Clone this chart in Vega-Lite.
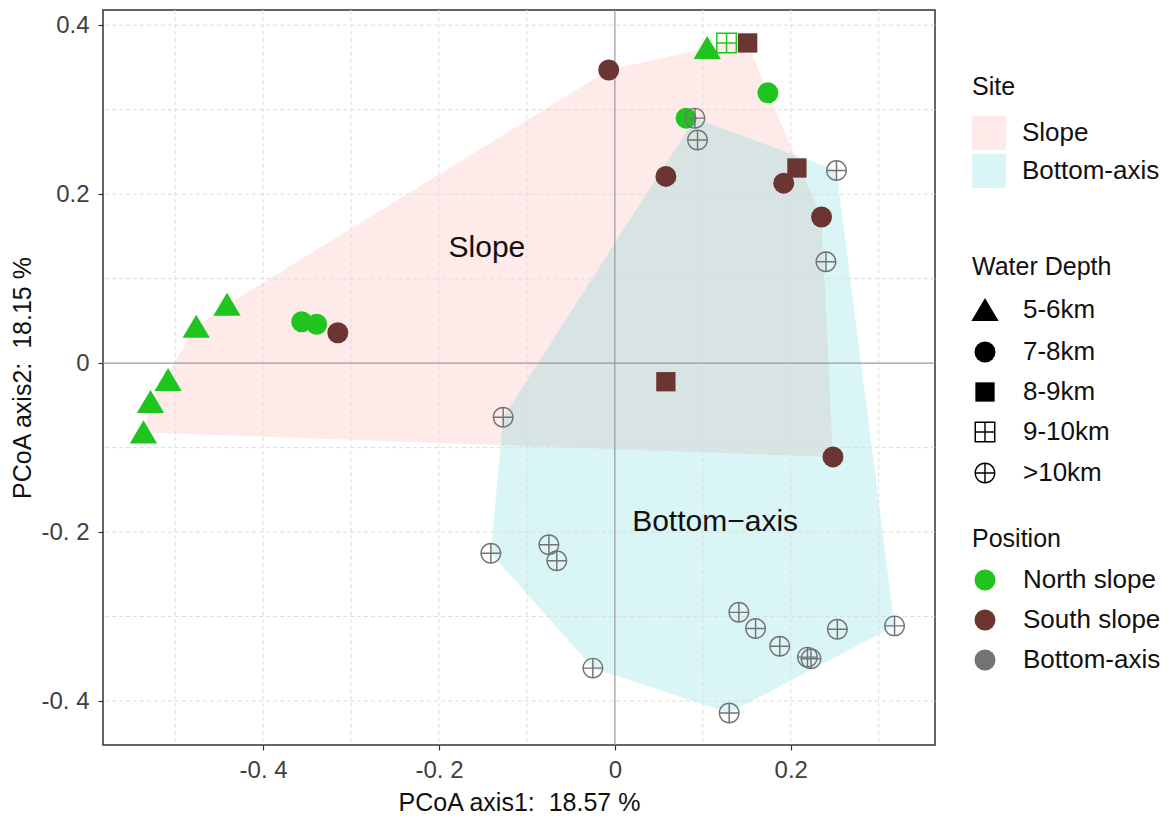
{
  "$schema": "https://vega.github.io/schema/vega-lite/v6.json",
  "width": 832,
  "height": 735,
  "autosize": {"type": "none"},
  "padding": {"left": 103, "top": 10, "right": 241, "bottom": 75},
  "background": "white",
  "config": {
    "font": "Liberation Sans",
    "view": {"stroke": "#333333", "strokeWidth": 1.5},
    "axis": {
      "domain": false,
      "grid": false,
      "tickColor": "#333333",
      "tickSize": 5,
      "tickWidth": 1.2,
      "labelColor": "#404040",
      "labelFontSize": 24,
      "titleFontSize": 25,
      "titleFontWeight": "normal",
      "titleColor": "#111111"
    },
    "legend": {
      "titleFontSize": 25,
      "titleFontWeight": "normal",
      "titleColor": "#111111",
      "labelFontSize": 26,
      "labelColor": "#111111",
      "padding": 0
    }
  },
  "datasets": {
    "pts": [
      {"x": -0.536, "y": -0.082, "depth": "5-6km", "pos": "North slope"},
      {"x": -0.528, "y": -0.046, "depth": "5-6km", "pos": "North slope"},
      {"x": -0.508, "y": -0.020, "depth": "5-6km", "pos": "North slope"},
      {"x": -0.476, "y": 0.043, "depth": "5-6km", "pos": "North slope"},
      {"x": -0.441, "y": 0.069, "depth": "5-6km", "pos": "North slope"},
      {"x": 0.105, "y": 0.373, "depth": "5-6km", "pos": "North slope"},
      {"x": -0.356, "y": 0.049, "depth": "7-8km", "pos": "North slope"},
      {"x": -0.339, "y": 0.046, "depth": "7-8km", "pos": "North slope"},
      {"x": 0.081, "y": 0.290, "depth": "7-8km", "pos": "North slope"},
      {"x": 0.174, "y": 0.320, "depth": "7-8km", "pos": "North slope"},
      {"x": 0.127, "y": 0.379, "depth": "9-10km", "pos": "North slope"},
      {"x": -0.315, "y": 0.036, "depth": "7-8km", "pos": "South slope"},
      {"x": -0.007, "y": 0.347, "depth": "7-8km", "pos": "South slope"},
      {"x": 0.058, "y": 0.221, "depth": "7-8km", "pos": "South slope"},
      {"x": 0.192, "y": 0.213, "depth": "7-8km", "pos": "South slope"},
      {"x": 0.235, "y": 0.173, "depth": "7-8km", "pos": "South slope"},
      {"x": 0.248, "y": -0.111, "depth": "7-8km", "pos": "South slope"},
      {"x": 0.151, "y": 0.379, "depth": "8-9km", "pos": "South slope"},
      {"x": 0.207, "y": 0.231, "depth": "8-9km", "pos": "South slope"},
      {"x": 0.058, "y": -0.022, "depth": "8-9km", "pos": "South slope"},
      {"x": 0.091, "y": 0.290, "depth": ">10km", "pos": "Bottom-axis"},
      {"x": 0.094, "y": 0.264, "depth": ">10km", "pos": "Bottom-axis"},
      {"x": 0.252, "y": 0.228, "depth": ">10km", "pos": "Bottom-axis"},
      {"x": 0.240, "y": 0.120, "depth": ">10km", "pos": "Bottom-axis"},
      {"x": -0.127, "y": -0.064, "depth": ">10km", "pos": "Bottom-axis"},
      {"x": -0.141, "y": -0.225, "depth": ">10km", "pos": "Bottom-axis"},
      {"x": -0.075, "y": -0.215, "depth": ">10km", "pos": "Bottom-axis"},
      {"x": -0.066, "y": -0.234, "depth": ">10km", "pos": "Bottom-axis"},
      {"x": -0.025, "y": -0.361, "depth": ">10km", "pos": "Bottom-axis"},
      {"x": 0.141, "y": -0.295, "depth": ">10km", "pos": "Bottom-axis"},
      {"x": 0.160, "y": -0.314, "depth": ">10km", "pos": "Bottom-axis"},
      {"x": 0.1875, "y": -0.335, "depth": ">10km", "pos": "Bottom-axis"},
      {"x": 0.219, "y": -0.348, "depth": ">10km", "pos": "Bottom-axis"},
      {"x": 0.223, "y": -0.350, "depth": ">10km", "pos": "Bottom-axis"},
      {"x": 0.253, "y": -0.315, "depth": ">10km", "pos": "Bottom-axis"},
      {"x": 0.318, "y": -0.311, "depth": ">10km", "pos": "Bottom-axis"},
      {"x": 0.130, "y": -0.414, "depth": ">10km", "pos": "Bottom-axis"}
    ],
    "hull": [
      {"site": "Slope", "ord": 1, "x": -0.536, "y": -0.082},
      {"site": "Slope", "ord": 2, "x": -0.528, "y": -0.046},
      {"site": "Slope", "ord": 3, "x": -0.476, "y": 0.043},
      {"site": "Slope", "ord": 4, "x": -0.441, "y": 0.069},
      {"site": "Slope", "ord": 5, "x": -0.007, "y": 0.347},
      {"site": "Slope", "ord": 6, "x": 0.105, "y": 0.373},
      {"site": "Slope", "ord": 7, "x": 0.127, "y": 0.379},
      {"site": "Slope", "ord": 8, "x": 0.151, "y": 0.379},
      {"site": "Slope", "ord": 9, "x": 0.174, "y": 0.320},
      {"site": "Slope", "ord": 10, "x": 0.235, "y": 0.173},
      {"site": "Slope", "ord": 11, "x": 0.248, "y": -0.111},
      {"site": "Bottom-axis", "ord": 1, "x": 0.091, "y": 0.290},
      {"site": "Bottom-axis", "ord": 2, "x": 0.252, "y": 0.228},
      {"site": "Bottom-axis", "ord": 3, "x": 0.318, "y": -0.311},
      {"site": "Bottom-axis", "ord": 4, "x": 0.130, "y": -0.414},
      {"site": "Bottom-axis", "ord": 5, "x": -0.025, "y": -0.361},
      {"site": "Bottom-axis", "ord": 6, "x": -0.141, "y": -0.225},
      {"site": "Bottom-axis", "ord": 7, "x": -0.127, "y": -0.064}
    ],
    "gridx": [{"x": -0.5}, {"x": -0.4}, {"x": -0.3}, {"x": -0.2}, {"x": -0.1}, {"x": 0.1}, {"x": 0.2}, {"x": 0.3}],
    "gridy": [{"y": -0.4}, {"y": -0.3}, {"y": -0.2}, {"y": -0.1}, {"y": 0.1}, {"y": 0.2}, {"y": 0.3}, {"y": 0.4}],
    "zero": [{"x": 0, "y": 0}],
    "labels": [
      {"x": -0.1455, "y": 0.136, "label": "Slope"},
      {"x": 0.114, "y": -0.188, "label": "Bottom−axis"}
    ]
  },
  "layer": [
    {
      "data": {"name": "hull"},
      "mark": {"type": "line", "fillOpacity": 0.15, "strokeOpacity": 0, "strokeWidth": 0},
      "encoding": {
        "x": {"field": "x", "type": "quantitative", "scale": {"domain": [-0.582, 0.364], "nice": false, "zero": false},
          "axis": {"title": "PCoA axis1: \u00a018.57 %", "values": [-0.4, -0.2, 0, 0.2],
            "labelExpr": "datum.value == 0 ? '0' : (datum.value < 0 ? '-0. ' + format(abs(datum.value) * 10, '.0f') : format(datum.value, '.1f'))",
            "labelPadding": 8, "titlePadding": 8}},
        "y": {"field": "y", "type": "quantitative", "scale": {"domain": [-0.452, 0.418], "nice": false, "zero": false},
          "axis": {"title": "PCoA axis2: \u00a018.15 %", "values": [-0.4, -0.2, 0, 0.2, 0.4],
            "labelExpr": "datum.value == 0 ? '0' : (datum.value < 0 ? '-0. ' + format(abs(datum.value) * 10, '.0f') : format(datum.value, '.1f'))",
            "labelPadding": 9, "titlePadding": 5}},
        "order": {"field": "ord", "type": "quantitative"},
        "detail": {"field": "site"},
        "fill": {
          "field": "site",
          "type": "nominal",
          "scale": {"domain": ["Slope", "Bottom-axis"], "range": ["#F8766D", "#00BFC4"]},
          "legend": {
            "title": "Site",
            "orient": "none",
            "legendX": 869,
            "legendY": 65,
            "symbolType": "square",
            "symbolSize": 1150,
            "symbolOpacity": 0.15,
            "symbolStrokeWidth": 0,
            "titlePadding": 16,
            "rowPadding": 4,
            "labelOffset": 16
          }
        }
      }
    },
    {
      "data": {"name": "gridx"},
      "mark": {"type": "rule", "color": "#dddddd", "strokeDash": [4, 3], "strokeWidth": 1},
      "encoding": {
        "x": {"field": "x", "type": "quantitative", "scale": {"domain": [-0.582, 0.364], "nice": false, "zero": false},
          "axis": {"title": "PCoA axis1: \u00a018.57 %", "values": [-0.4, -0.2, 0, 0.2],
            "labelExpr": "datum.value == 0 ? '0' : (datum.value < 0 ? '-0. ' + format(abs(datum.value) * 10, '.0f') : format(datum.value, '.1f'))",
            "labelPadding": 8, "titlePadding": 8}}
      }
    },
    {
      "data": {"name": "gridy"},
      "mark": {"type": "rule", "color": "#dddddd", "strokeDash": [4, 3], "strokeWidth": 1},
      "encoding": {
        "y": {"field": "y", "type": "quantitative", "scale": {"domain": [-0.452, 0.418], "nice": false, "zero": false},
          "axis": {"title": "PCoA axis2: \u00a018.15 %", "values": [-0.4, -0.2, 0, 0.2, 0.4],
            "labelExpr": "datum.value == 0 ? '0' : (datum.value < 0 ? '-0. ' + format(abs(datum.value) * 10, '.0f') : format(datum.value, '.1f'))",
            "labelPadding": 9, "titlePadding": 5}}
      }
    },
    {
      "data": {"name": "zero"},
      "mark": {"type": "rule", "color": "#9a9a9a", "strokeWidth": 1.2},
      "encoding": {
        "x": {"field": "x", "type": "quantitative", "scale": {"domain": [-0.582, 0.364], "nice": false, "zero": false},
          "axis": {"title": "PCoA axis1: \u00a018.57 %", "values": [-0.4, -0.2, 0, 0.2],
            "labelExpr": "datum.value == 0 ? '0' : (datum.value < 0 ? '-0. ' + format(abs(datum.value) * 10, '.0f') : format(datum.value, '.1f'))",
            "labelPadding": 8, "titlePadding": 8}}
      }
    },
    {
      "data": {"name": "zero"},
      "mark": {"type": "rule", "color": "#9a9a9a", "strokeWidth": 1.2},
      "encoding": {
        "y": {"field": "y", "type": "quantitative", "scale": {"domain": [-0.452, 0.418], "nice": false, "zero": false},
          "axis": {"title": "PCoA axis2: \u00a018.15 %", "values": [-0.4, -0.2, 0, 0.2, 0.4],
            "labelExpr": "datum.value == 0 ? '0' : (datum.value < 0 ? '-0. ' + format(abs(datum.value) * 10, '.0f') : format(datum.value, '.1f'))",
            "labelPadding": 9, "titlePadding": 5}}
      }
    },
    {
      "data": {"name": "pts"},
      "mark": {"type": "point", "filled": true, "opacity": 1, "size": 440, "strokeWidth": 0},
      "encoding": {
        "x": {"field": "x", "type": "quantitative", "scale": {"domain": [-0.582, 0.364], "nice": false, "zero": false},
          "axis": {"title": "PCoA axis1: \u00a018.57 %", "values": [-0.4, -0.2, 0, 0.2],
            "labelExpr": "datum.value == 0 ? '0' : (datum.value < 0 ? '-0. ' + format(abs(datum.value) * 10, '.0f') : format(datum.value, '.1f'))",
            "labelPadding": 8, "titlePadding": 8}},
        "y": {"field": "y", "type": "quantitative", "scale": {"domain": [-0.452, 0.418], "nice": false, "zero": false},
          "axis": {"title": "PCoA axis2: \u00a018.15 %", "values": [-0.4, -0.2, 0, 0.2, 0.4],
            "labelExpr": "datum.value == 0 ? '0' : (datum.value < 0 ? '-0. ' + format(abs(datum.value) * 10, '.0f') : format(datum.value, '.1f'))",
            "labelPadding": 9, "titlePadding": 5}},
        "shape": {
          "field": "depth",
          "type": "nominal",
          "scale": {
            "domain": ["5-6km", "7-8km", "8-9km", "9-10km", ">10km"],
            "range": [
              "M0,-1.15 L-1.3,1.05 L1.3,1.05 Z",
              "circle",
              "M-0.92,-0.92 L0.92,-0.92 L0.92,0.92 L-0.92,0.92 Z",
              "M-1,-1 L1,-1 L1,1 L-1,1 Z M-0.86,-0.86 L-0.86,-0.07 L-0.07,-0.07 L-0.07,-0.86 Z M0.07,-0.86 L0.07,-0.07 L0.86,-0.07 L0.86,-0.86 Z M-0.86,0.07 L-0.86,0.86 L-0.07,0.86 L-0.07,0.07 Z M0.07,0.07 L0.07,0.86 L0.86,0.86 L0.86,0.07 Z",
              "M-1,0 A1,1 0 1,1 1,0 A1,1 0 1,1 -1,0 Z M-0.86,0 A0.86,0.86 0 1,0 0.86,0 A0.86,0.86 0 1,0 -0.86,0 Z M-0.07,-0.93 L0.07,-0.93 L0.07,-0.07 L0.93,-0.07 L0.93,0.07 L0.07,0.07 L0.07,0.93 L-0.07,0.93 L-0.07,0.07 L-0.93,0.07 L-0.93,-0.07 L-0.07,-0.07 Z"
            ]
          },
          "legend": {
            "title": "Water Depth",
            "orient": "none",
            "legendX": 869,
            "legendY": 245,
            "symbolSize": 440,
            "titlePadding": 17,
            "rowPadding": 13,
            "labelOffset": 25,
            "encode": {"symbols": {"update": {"fill": {"value": "#262626"}, "stroke": {"value": "transparent"}, "opacity": {"value": 1}}}}
          }
        },
        "color": {
          "field": "pos",
          "type": "nominal",
          "scale": {"domain": ["North slope", "South slope", "Bottom-axis"], "range": ["#1fc41f", "#6b3631", "#737373"]},
          "legend": {
            "title": "Position",
            "orient": "none",
            "legendX": 869,
            "legendY": 517,
            "symbolType": "circle",
            "symbolSize": 440,
            "titlePadding": 15,
            "rowPadding": 14,
            "labelOffset": 25
          }
        }
      }
    },
    {
      "data": {"name": "labels"},
      "mark": {"type": "text", "fontSize": 30, "color": "#111111", "align": "center", "baseline": "middle"},
      "encoding": {
        "x": {"field": "x", "type": "quantitative", "scale": {"domain": [-0.582, 0.364], "nice": false, "zero": false},
          "axis": {"title": "PCoA axis1: \u00a018.57 %", "values": [-0.4, -0.2, 0, 0.2],
            "labelExpr": "datum.value == 0 ? '0' : (datum.value < 0 ? '-0. ' + format(abs(datum.value) * 10, '.0f') : format(datum.value, '.1f'))",
            "labelPadding": 8, "titlePadding": 8}},
        "y": {"field": "y", "type": "quantitative", "scale": {"domain": [-0.452, 0.418], "nice": false, "zero": false},
          "axis": {"title": "PCoA axis2: \u00a018.15 %", "values": [-0.4, -0.2, 0, 0.2, 0.4],
            "labelExpr": "datum.value == 0 ? '0' : (datum.value < 0 ? '-0. ' + format(abs(datum.value) * 10, '.0f') : format(datum.value, '.1f'))",
            "labelPadding": 9, "titlePadding": 5}},
        "text": {"field": "label"}
      }
    }
  ]
}
